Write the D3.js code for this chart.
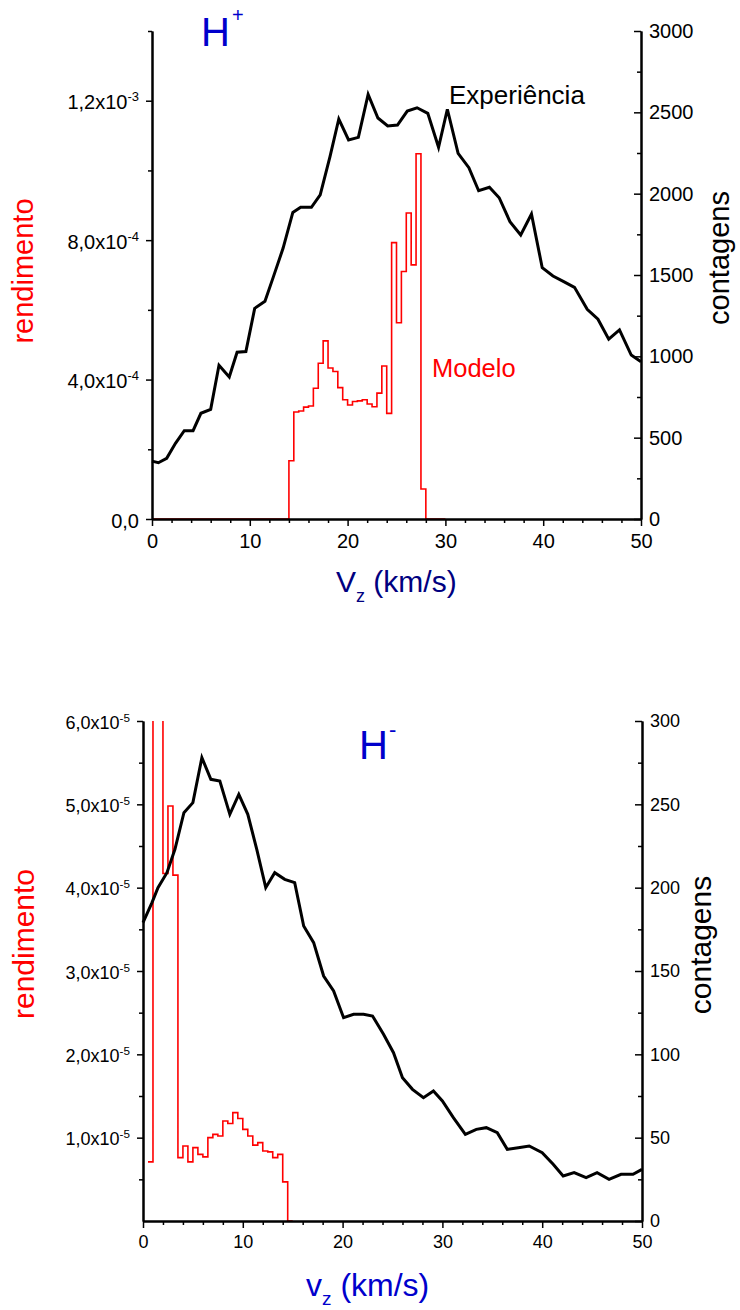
<!DOCTYPE html>
<html>
<head>
<meta charset="utf-8">
<script src="https://cdn.jsdelivr.net/npm/d3@7"></script>
<style>
  body { margin: 0; background: #fff; }
  svg { display: block; }
  text { font-family: "Liberation Sans", Arial, sans-serif; }
</style>
</head>
<body>
<script>
var w = 740, h = 1310;

// ---- H+ panel data ----
// Experiencia (contagens, right axis)
var hpExpV = [0, 0.65, 1.5, 2.4, 3.3, 4.2, 5.0, 6.0, 6.85, 7.9, 8.7, 9.6, 10.5, 11.55, 12.4, 13.4, 14.4, 15.2, 16.3, 17.2,
              18.2, 19.1, 20.1, 21.1, 22.1, 23.1, 24.1, 25.1, 26.1, 27.1, 28.2, 29.3, 30.2, 31.3, 32.4, 33.4, 34.5, 35.5,
              36.6, 37.7, 38.8, 39.9, 41.0, 42.1, 43.2, 44.5, 45.6, 46.7, 47.8, 49.0, 50.0];
var hpExpC = [356, 346, 373, 465, 543, 543, 650, 674, 945, 873, 1025, 1029, 1295, 1338, 1487, 1664, 1885, 1916, 1916, 1992,
              2227, 2459, 2330, 2346, 2610, 2465, 2416, 2422, 2508, 2528, 2494, 2285, 2519, 2248, 2160, 2018, 2039, 1975,
              1828, 1746, 1875, 1545, 1494, 1459, 1424, 1289, 1228, 1105, 1162, 1008, 967];
// Modelo (rendimento x1e-4, left axis), step edges
var hpModV = [0, 14, 14.5, 15, 15.5, 16, 16.5, 17, 17.5, 18, 18.5, 19, 19.5, 20, 20.5, 21, 21.5, 22, 22.5, 23, 23.5,
              24, 24.5, 25, 25.5, 26, 26.5, 27, 27.5, 28, 30];
var hpModY = [0, 1.67, 3.07, 3.10, 3.21, 3.24, 3.75, 4.47, 5.11, 4.33, 4.23, 3.77, 3.42, 3.27, 3.37, 3.39, 3.42, 3.30, 3.22, 3.61, 4.39,
              3.03, 7.93, 5.63, 7.10, 8.78, 7.29, 10.48, 0.86, 0, 0];
var hpLeftTicks = [0, 4, 8, 12];
var hpLeftMant = ["0,0", "4,0", "8,0", "1,2"];
var hpLeftExp = ["", "-4", "-4", "-3"];
var hpLeftMinor = [2, 6, 10, 14];
var hpRightTicks = [0, 500, 1000, 1500, 2000, 2500, 3000];
var hpRightMinor = [250, 750, 1250, 1750, 2250, 2750];

// ---- H- panel data ----
var hmExpV = [0, 0.9, 1.5, 2.4, 3.2, 4.1, 5.0, 5.9, 6.8, 7.7, 8.7, 9.6, 10.5, 11.4, 12.3, 13.2, 14.2, 15.2, 16.1, 17.1,
              18.1, 19.1, 20.1, 21.1, 22.1, 23.0, 24.1, 25.1, 26.0, 27.0, 28.1, 29.1, 30.0, 31.1, 32.3, 33.4, 34.4, 35.5,
              36.5, 37.6, 38.7, 40.0, 41.1, 42.1, 43.2, 44.4, 45.5, 46.7, 47.9, 49.1, 50.0];
var hmExpC = [179, 191, 200, 209, 223, 245, 251, 278, 265, 264, 244, 256, 244, 223, 200, 209, 205, 203, 177, 167,
              147, 138, 122, 124, 124, 123, 112, 101, 86, 79, 74, 78, 72, 62, 52, 55, 56, 53,
              43, 44, 45, 41, 34, 27, 29, 26, 29, 25, 28, 28, 31];
// Modelo (rendimento x1e-5)
var hmModV = [0.5, 1, 1.5, 2, 2.5, 3, 3.5, 4, 4.5, 5, 5.5, 6, 6.5, 7, 7.5, 8, 8.5, 9, 9.5, 10, 10.5, 11, 11.5, 12,
              12.5, 13, 13.5, 14, 14.5, 15];
var hmModY = [0.71, 9, 9, 4.17, 4.98, 4.15, 0.76, 0.90, 0.71, 0.88, 0.80, 0.77, 1.00, 1.04, 1.02, 1.20, 1.17, 1.30, 1.23, 1.10,
              1.02, 0.91, 0.94, 0.84, 0.83, 0.76, 0.80, 0.47, 0, 0];
var hmLeftTicks = [1, 2, 3, 4, 5, 6];
var hmLeftMant = ["1,0", "2,0", "3,0", "4,0", "5,0", "6,0"];
var hmLeftExp = ["-5", "-5", "-5", "-5", "-5", "-5"];
var hmLeftMinor = [0.5, 1.5, 2.5, 3.5, 4.5, 5.5];
var hmRightTicks = [0, 50, 100, 150, 200, 250, 300];
var hmRightMinor = [25, 75, 125, 175, 225, 275];

var xTicks = [0, 10, 20, 30, 40, 50];
var xMinor = [2, 4, 6, 8, 12, 14, 16, 18, 22, 24, 26, 28, 32, 34, 36, 38, 42, 44, 46, 48];

var svg = d3.select("body").append("svg").attr("width", w).attr("height", h);
svg.append("rect").attr("width", w).attr("height", h).attr("fill", "#fff");

function panel(p) {
  var x = d3.scaleLinear().domain([0, 50]).range([p.left, p.right]);
  var yL = d3.scaleLinear().domain([0, p.leftMax]).range([p.bottom, p.top]);
  var yR = d3.scaleLinear().domain([0, p.rightMax]).range([p.bottom, p.top]);
  var g = svg.append("g");

  var clipId = "clip" + p.id;
  svg.append("clipPath").attr("id", clipId).append("rect")
    .attr("x", p.left).attr("y", p.top).attr("width", p.right - p.left).attr("height", p.bottom - p.top);

  // model histogram
  var step = d3.line().curve(d3.curveStepAfter)
    .x(function (d) { return x(d[0]); })
    .y(function (d) { return yL(d[1]); });
  g.append("path").datum(d3.zip(p.modV, p.modY))
    .attr("d", step).attr("fill", "none").attr("stroke", "#ff0000").attr("stroke-width", 1.6)
    .attr("clip-path", "url(#" + clipId + ")");

  // experiment line
  var line = d3.line().x(function (d) { return x(d[0]); }).y(function (d) { return yR(d[1]); });
  g.append("path").datum(d3.zip(p.expV, p.expC))
    .attr("d", line).attr("fill", "none").attr("stroke", "#000").attr("stroke-width", 3)
    .attr("stroke-linejoin", "miter");

  // x axis
  g.append("g").attr("transform", "translate(0," + p.bottom + ")")
    .call(d3.axisBottom(x).tickValues(xMinor).tickSize(4).tickFormat("").tickSizeOuter(0));
  g.append("g").attr("transform", "translate(0," + p.bottom + ")")
    .call(d3.axisBottom(x).tickValues(xTicks).tickSize(7).tickPadding(p.xPad).tickSizeOuter(0))
    .attr("font-size", p.fs);

  // left axis
  g.append("g").attr("transform", "translate(" + p.left + ",0)")
    .call(d3.axisLeft(yL).tickValues(p.leftMinor).tickSize(4).tickFormat("").tickSizeOuter(0));
  var la = g.append("g").attr("transform", "translate(" + p.left + ",0)")
    .call(d3.axisLeft(yL).tickValues(p.leftTicks).tickSize(6).tickPadding(7).tickSizeOuter(0))
    .attr("font-size", p.fs);
  la.selectAll(".tick text").each(function (d, i) {
    var t = d3.select(this).text("").attr("dy", "0.4em");
    if (p.leftExp[i] === "") { t.text(p.leftMant[i]); return; }
    t.append("tspan").text(p.leftMant[i] + "x10");
    t.append("tspan").attr("dy", "-0.6em").attr("font-size", "0.65em").text(p.leftExp[i]);
  });

  // right axis (ticks inward)
  g.append("g").attr("transform", "translate(" + p.right + ",0)")
    .call(d3.axisRight(yR).tickValues(p.rightMinor).tickSize(-4).tickFormat("").tickSizeOuter(0));
  g.append("g").attr("transform", "translate(" + p.right + ",0)")
    .call(d3.axisRight(yR).tickValues(p.rightTicks).tickSize(-7).tickPadding(8).tickSizeOuter(0)
      .tickFormat(d3.format("d")))
    .attr("font-size", p.fs);

  g.selectAll(".domain").attr("stroke-width", 2);
  g.selectAll(".tick line").attr("stroke-width", 1.5);
  g.selectAll(".tick text").attr("fill", "#000").attr("font-family", "'Liberation Sans', Arial, sans-serif");
  return { x: x, yL: yL, yR: yR };
}

panel({ id: "a", left: 152, right: 641, top: 31, bottom: 519, leftMax: 14, rightMax: 3000, fs: 20, xPad: 8,
  expV: hpExpV, expC: hpExpC, modV: hpModV, modY: hpModY,
  leftTicks: hpLeftTicks, leftMant: hpLeftMant, leftExp: hpLeftExp, leftMinor: hpLeftMinor,
  rightTicks: hpRightTicks, rightMinor: hpRightMinor });

panel({ id: "b", left: 143, right: 642, top: 721, bottom: 1221, leftMax: 6, rightMax: 300, fs: 18, xPad: 7,
  expV: hmExpV, expC: hmExpC, modV: hmModV, modY: hmModY,
  leftTicks: hmLeftTicks, leftMant: hmLeftMant, leftExp: hmLeftExp, leftMinor: hmLeftMinor,
  rightTicks: hmRightTicks, rightMinor: hmRightMinor });

// ---- texts, top panel ----
svg.append("text").attr("x", 201).attr("y", 46).attr("font-size", 40).attr("fill", "#0000cc").text("H");
svg.append("text").attr("x", 232).attr("y", 22).attr("font-size", 20).attr("fill", "#0000cc").text("+");
svg.append("text").attr("x", 449).attr("y", 104).attr("font-size", 26).attr("fill", "#000").text("Experiência");
svg.append("text").attr("x", 432).attr("y", 377).attr("font-size", 25.5).attr("fill", "#ff0000").text("Modelo");

var xl1 = svg.append("text").attr("x", 336).attr("y", 592).attr("font-size", 30).attr("fill", "#000080");
xl1.append("tspan").text("V");
xl1.append("tspan").attr("dy", 10).attr("font-size", 18).text("z");
xl1.append("tspan").attr("dy", -10).text(" (km/s)");

svg.append("text").attr("transform", "translate(33,271) rotate(-90)").attr("text-anchor", "middle")
  .attr("font-size", 29).attr("fill", "#ff0000").text("rendimento");
svg.append("text").attr("transform", "translate(729,258) rotate(-90)").attr("text-anchor", "middle")
  .attr("font-size", 29).attr("fill", "#000").text("contagens");

// ---- texts, bottom panel ----
svg.append("text").attr("x", 359).attr("y", 759).attr("font-size", 40).attr("fill", "#0000cc").text("H");
svg.append("text").attr("x", 389).attr("y", 737).attr("font-size", 22).attr("fill", "#0000cc").text("-");

var xl2 = svg.append("text").attr("x", 306).attr("y", 1296).attr("font-size", 32).attr("fill", "#0000cc");
xl2.append("tspan").text("v");
xl2.append("tspan").attr("dy", 9).attr("font-size", 19).text("z");
xl2.append("tspan").attr("dy", -9).text(" (km/s)");

svg.append("text").attr("transform", "translate(34,944) rotate(-90)").attr("text-anchor", "middle")
  .attr("font-size", 30).attr("fill", "#ff0000").text("rendimento");
svg.append("text").attr("transform", "translate(711,945) rotate(-90)").attr("text-anchor", "middle")
  .attr("font-size", 30).attr("fill", "#000").text("contagens");
</script>
</body>
</html>
